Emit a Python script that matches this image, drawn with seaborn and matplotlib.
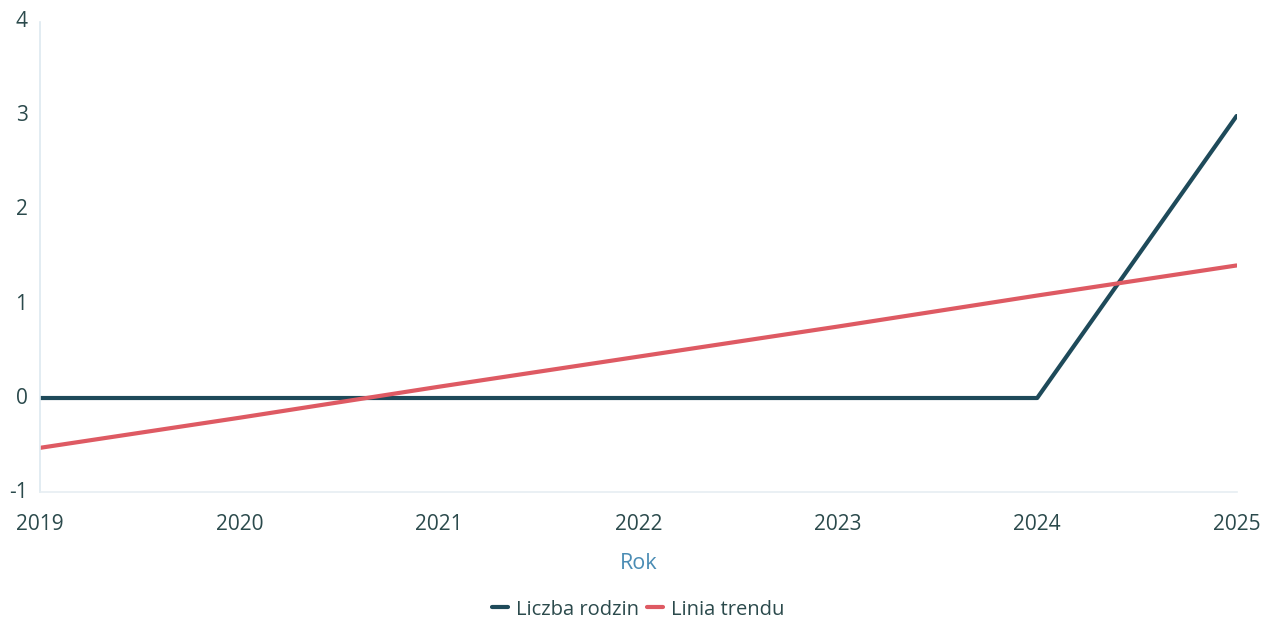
import matplotlib
matplotlib.use("Agg")
import matplotlib.pyplot as plt
import seaborn as sns
import pandas as pd

years = [2019, 2020, 2021, 2022, 2023, 2024, 2025]
liczba_rodzin = [0, 0, 0, 0, 0, 0, 3]
linia_trendu = [-0.53, -0.21, 0.12, 0.44, 0.76, 1.09, 1.41]
series_names = ["Liczba rodzin", "Linia trendu"]
y_ticks = [-1, 0, 1, 2, 3, 4]

df = pd.DataFrame({
    "Rok": years * 2,
    "Wartość": liczba_rodzin + linia_trendu,
    "Seria": [series_names[0]] * len(years) + [series_names[1]] * len(years),
})

sns.set_theme(style="white")
plt.rcParams["font.family"] = ["Open Sans", "DejaVu Sans"]

text_color = "#2b4a4c"
palette = {series_names[0]: "#1e4a5a", series_names[1]: "#de5a63"}

fig = plt.figure(figsize=(12.63, 6.21), dpi=100)
ax = fig.add_axes([0.0317, 0.2077, 0.9474, 0.7569])

sns.lineplot(data=df, x="Rok", y="Wartość", hue="Seria", palette=palette,
             linewidth=3, ax=ax, legend=True)

ax.set_xlim(2019, 2025)
ax.set_ylim(-1, 4)
ax.set_xticks(years)
ax.set_xticklabels([str(y) for y in years])
ax.set_yticks(y_ticks)
ax.set_yticklabels([str(t) for t in y_ticks])
ax.tick_params(axis="both", length=0, labelsize=15, colors=text_color)
ax.tick_params(axis="x", pad=16)
ax.tick_params(axis="y", pad=9)
for lbl in ax.get_yticklabels():
    lbl.set_verticalalignment("center")

ax.set_xlabel("Rok", fontsize=15.5, color="#4a8cb4", labelpad=13)
ax.set_ylabel("")

for side in ["top", "right"]:
    ax.spines[side].set_visible(False)
ax.spines["left"].set_color("#dde9f0")
ax.spines["bottom"].set_color("#e6eef2")
ax.spines["left"].set_linewidth(1.2)
ax.spines["bottom"].set_linewidth(1.2)

handles, labels = ax.get_legend_handles_labels()
leg = ax.legend(handles, labels, loc="center", bbox_to_anchor=(0.5, -0.25),
                ncol=2, frameon=False, fontsize=14.5, handlelength=0.8,
                handletextpad=0.4, columnspacing=0.4)
for t in leg.get_texts():
    t.set_color(text_color)

fig.savefig("out.png", dpi=100, facecolor="white")
